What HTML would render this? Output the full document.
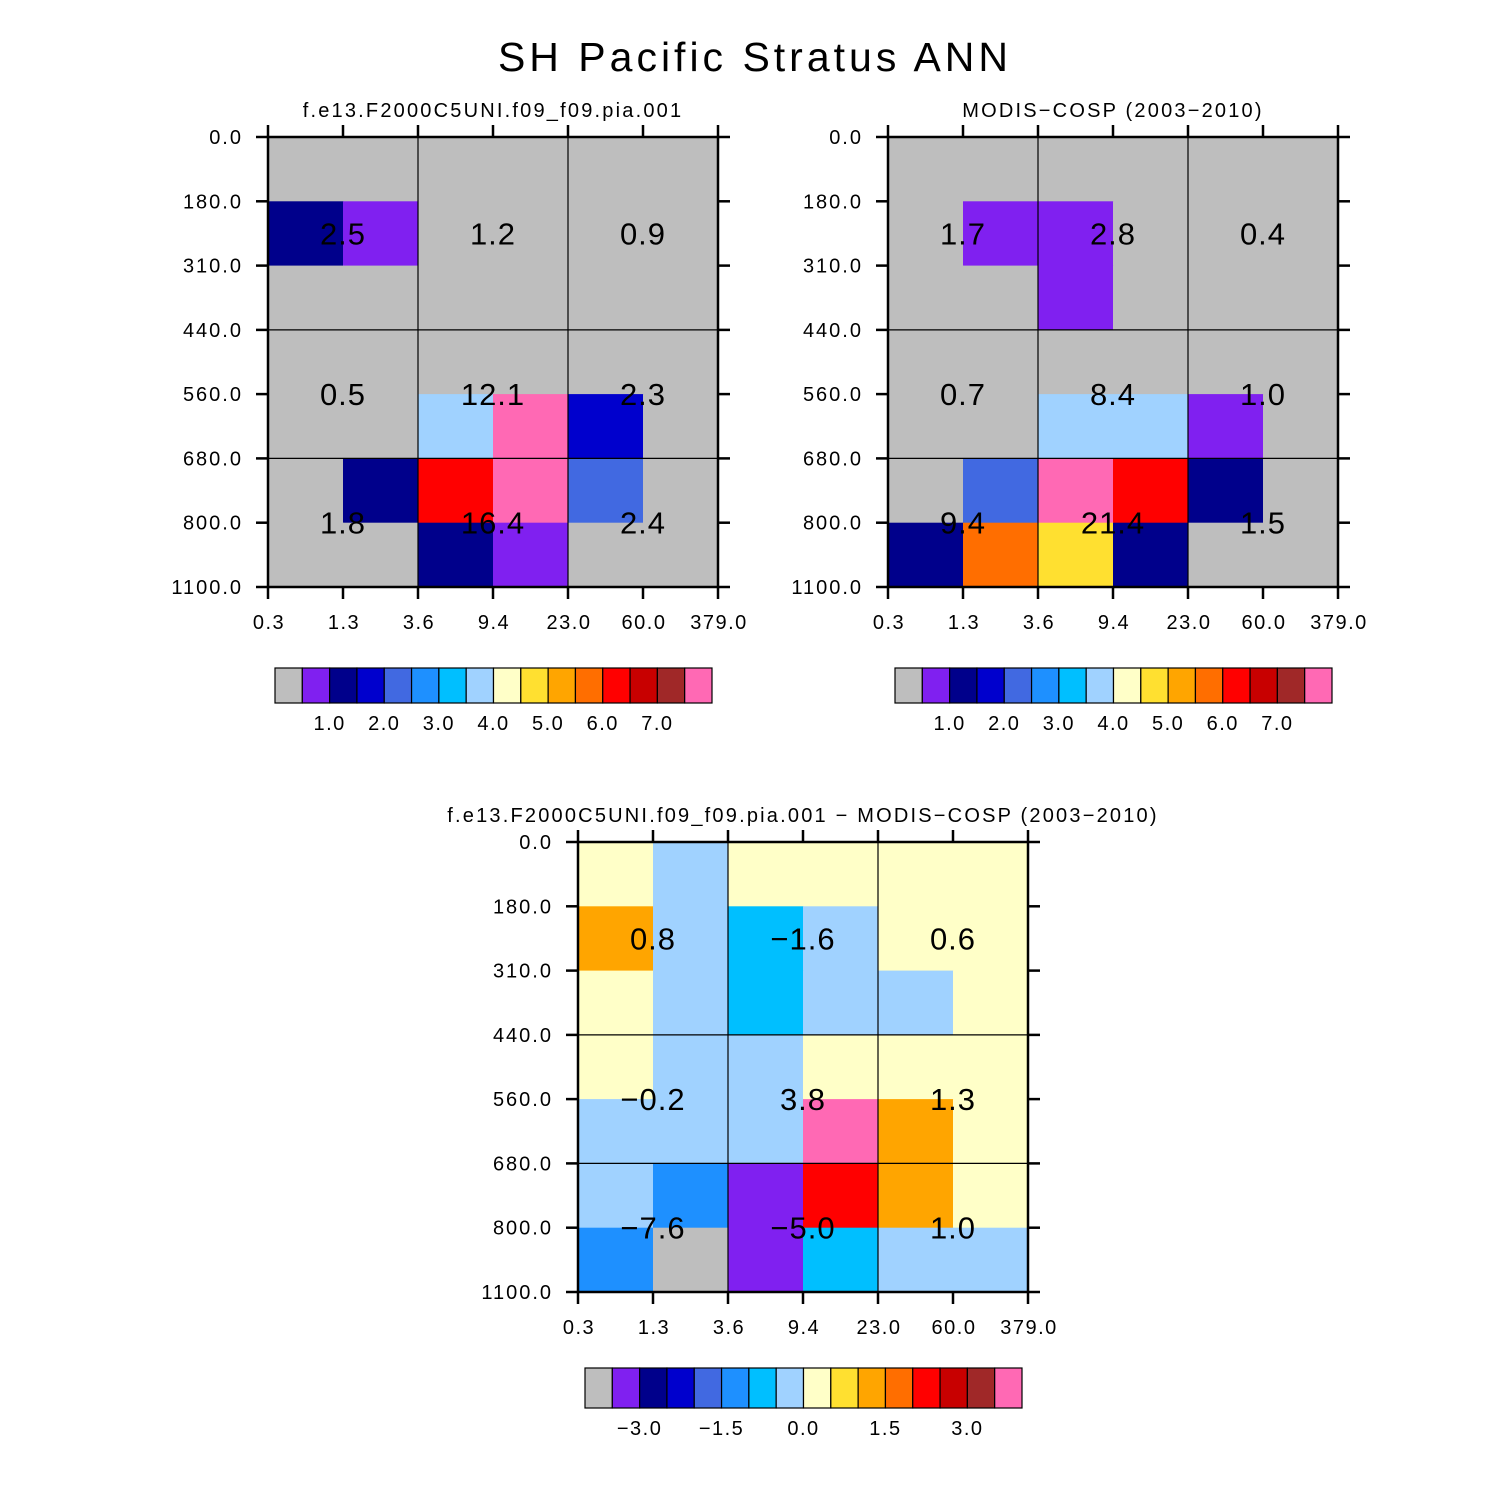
<!DOCTYPE html>
<html><head><meta charset="utf-8"><style>
html,body{margin:0;padding:0;background:#fff}
svg{display:block}
text{font-family:"Liberation Sans",sans-serif}
</style></head><body>
<svg id="chart" width="1510" height="1510" viewBox="0 0 1510 1510" xmlns="http://www.w3.org/2000/svg">
<text x="755" y="71" text-anchor="middle" font-size="41" letter-spacing="4">SH Pacific Stratus ANN</text>
</svg>
<script>
// Data arrays (rows top->bottom: pressure bins; cols left->right: tau bins)
const xTickLabels = ["0.3","1.3","3.6","9.4","23.0","60.0","379.0"];
const yTickLabels = ["0.0","180.0","310.0","440.0","560.0","680.0","800.0","1100.0"];
const colors = ["#bebebe","#8020f0","#00008b","#0000cd","#4169e1","#1e90ff","#00bfff","#a0d2ff","#ffffc8","#ffe030","#ffa500","#ff6e00","#ff0000","#c80000","#a02828","#ff69b4"];
const levelsAbs = [0.5,1,1.5,2,2.5,3,3.5,4,4.5,5,5.5,6,6.5,7,7.5];
const levelsDiff = [-3.5,-3,-2.5,-2,-1.5,-1,-0.5,0,0.5,1,1.5,2,2.5,3,3.5];
const cbLabelsAbs = ["1.0","2.0","3.0","4.0","5.0","6.0","7.0"];
const cbLabelsDiff = ["−3.0","−1.5","0.0","1.5","3.0"];
const model = [
 [0.2,0.1,0.1,0.1,0.1,0.1],
 [1.2,0.8,0.3,0.2,0.2,0.1],
 [0.3,0.2,0.2,0.2,0.1,0.1],
 [0.1,0.2,0.3,0.3,0.2,0.1],
 [0.1,0.4,3.8,8.0,1.8,0.2],
 [0.1,1.3,6.2,7.8,2.1,0.3],
 [0.1,0.3,1.1,0.7,0.2,0.1]];
const obs = [
 [0.1,0.1,0.1,0.1,0.1,0.1],
 [0.2,0.8,0.9,0.2,0.2,0.1],
 [0.2,0.2,0.9,0.3,0.2,0.1],
 [0.1,0.3,0.3,0.3,0.2,0.1],
 [0.3,0.4,3.8,3.9,0.7,0.2],
 [0.4,2.2,7.8,6.2,1.2,0.3],
 [1.2,5.7,4.8,1.4,0.3,0.4]];
const diff = [
 [0.1,-0.2,0.1,0.1,0.1,0.1],
 [1.2,-0.1,-0.6,-0.3,0.2,0.1],
 [0.1,-0.1,-0.7,-0.1,-0.3,0.1],
 [0.1,-0.1,-0.2,0.2,0.1,0.1],
 [-0.2,-0.1,-0.3,4.1,1.1,0.1],
 [-0.3,-1.2,-3.2,2.2,1.1,0.2],
 [-1.1,-5.4,-3.2,-0.7,-0.1,-0.3]];
const totalsModel = ["2.5","1.2","0.9","0.5","12.1","2.3","1.8","16.4","2.4"];
const totalsObs = ["1.7","2.8","0.4","0.7","8.4","1.0","9.4","21.4","1.5"];
const totalsDiff = ["0.8","−1.6","0.6","−0.2","3.8","1.3","−7.6","−5.0","1.0"];

const NS="http://www.w3.org/2000/svg";
const svg=document.getElementById('chart');
function mk(tag,attrs,parent){const e=document.createElementNS(NS,tag);for(const k in attrs)e.setAttribute(k,attrs[k]);(parent||svg).appendChild(e);return e;}
const rowEdges=[0,64.3,128.6,192.9,257.1,321.4,385.7,450];
function colorFor(v,levels){let i=0;while(i<levels.length&&v>=levels[i])i++;return colors[i];}

function panel(x0,y0,title,data,levels,totals,name){
  const g=mk('g',{});
  
  
  const W=450,cw=W/6;
  const xs=i=>x0+i*cw, ys=j=>y0+rowEdges[j];
  for(let r=0;r<7;r++)for(let c=0;c<6;c++){
    const rc=mk('rect',{x:xs(c),y:ys(r),width:cw+0.5,height:ys(r+1)-ys(r)+0.5,fill:colorFor(data[r][c],levels)},g);
    
    
  }
  [2,4].forEach(i=>mk('line',{x1:xs(i),x2:xs(i),y1:y0,y2:y0+W,stroke:'#000','stroke-width':1.2},g));
  [3,5].forEach(j=>mk('line',{x1:x0,x2:x0+W,y1:ys(j),y2:ys(j),stroke:'#000','stroke-width':1.2},g));
  mk('rect',{x:x0,y:y0,width:W,height:W,fill:'none',stroke:'#000','stroke-width':2.5},g);
  for(let i=0;i<7;i++){
    mk('line',{x1:xs(i),x2:xs(i),y1:y0-12,y2:y0,stroke:'#000','stroke-width':2.5},g);
    mk('line',{x1:xs(i),x2:xs(i),y1:y0+W,y2:y0+W+12,stroke:'#000','stroke-width':2.5},g);
    const t=mk('text',{x:xs(i)+1,y:y0+W+42,'text-anchor':'middle','font-size':20,'letter-spacing':1.5},g);
    t.textContent=xTickLabels[i];
    
    
  }
  for(let j=0;j<8;j++){
    mk('line',{x1:x0-12,x2:x0,y1:ys(j),y2:ys(j),stroke:'#000','stroke-width':2.5},g);
    mk('line',{x1:x0+W,x2:x0+W+12,y1:ys(j),y2:ys(j),stroke:'#000','stroke-width':2.5},g);
    const t=mk('text',{x:x0-25,y:ys(j)+7,'text-anchor':'end','font-size':20,'letter-spacing':2},g);
    t.textContent=yTickLabels[j];
    
    
  }
  const tx=[1,3,5],ty=[(ys(1)+ys(2))/2,ys(4),ys(6)];
  let k=0;
  for(let a=0;a<3;a++)for(let b=0;b<3;b++){
    const t=mk('text',{x:xs(tx[b]),y:ty[a]+11,'text-anchor':'middle','font-size':31,'letter-spacing':1},g);
    t.textContent=totals[k++];
    
    
  }
  const st=mk('text',{x:x0+W/2,y:y0-20,'text-anchor':'middle','font-size':20,'letter-spacing':2.2},g);
  st.textContent=title;
  
  
}
function colorbar(x0,y0,h,labels,step,name){
  const g=mk('g',{});
  
  
  const bw=437/16;
  colors.forEach((c,i)=>{
    const r=mk('rect',{x:x0+i*bw,y:y0,width:bw,height:h,fill:c,stroke:'#000','stroke-width':1.2},g);
    
    
  });
  labels.forEach((l,i)=>{
    const t=mk('text',{x:x0+(2+i*step)*bw,y:y0+h+27,'text-anchor':'middle','font-size':20,'letter-spacing':1.5},g);
    t.textContent=l;
    
    
  });
}
panel(268,137,"f.e13.F2000C5UNI.f09_f09.pia.001",model,levelsAbs,totalsModel,'model-panel');
panel(888,137,"MODIS−COSP (2003−2010)",obs,levelsAbs,totalsObs,'obs-panel');
panel(578,842,"f.e13.F2000C5UNI.f09_f09.pia.001 − MODIS−COSP (2003−2010)",diff,levelsDiff,totalsDiff,'diff-panel');
colorbar(275,668,35,cbLabelsAbs,2,'model-colorbar');
colorbar(895,668,35,cbLabelsAbs,2,'obs-colorbar');
colorbar(585,1368,40,cbLabelsDiff,3,'diff-colorbar');
</script>
</body></html>
